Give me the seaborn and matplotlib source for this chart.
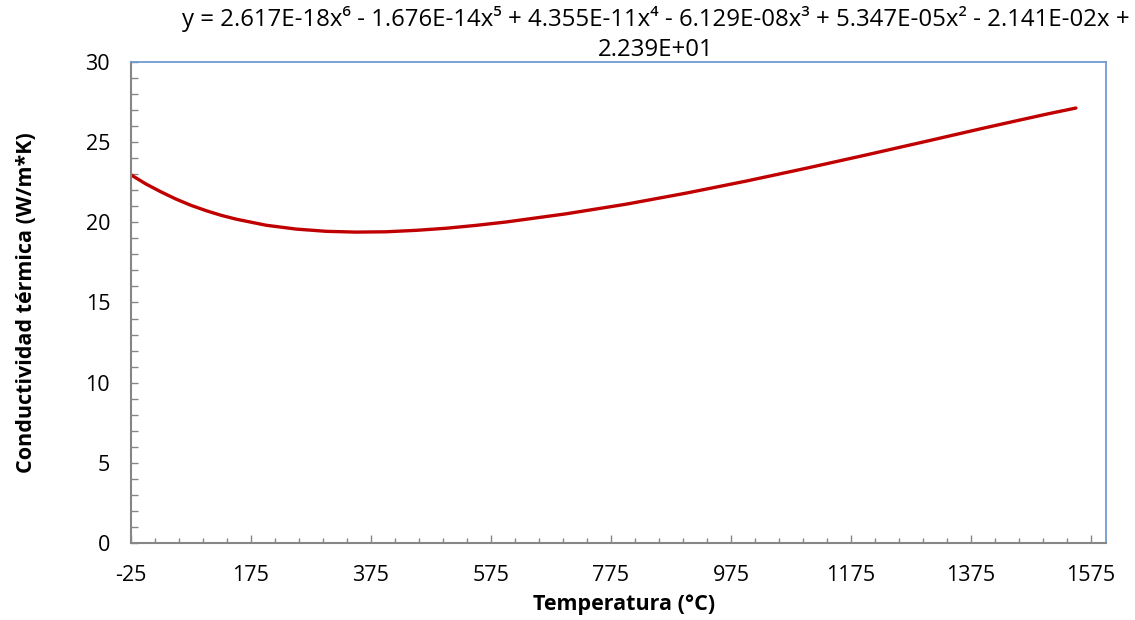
import seaborn as sns
import matplotlib.pyplot as plt
import pandas as pd
from matplotlib.ticker import MultipleLocator, FixedLocator

# valores
temperatura = [-25, 0, 25, 50, 75, 100, 125, 150, 200, 250, 300, 350, 400, 450,
               500, 550, 600, 700, 800, 900, 1000, 1100, 1200, 1300, 1400, 1500, 1550]
conductividad = [22.96, 22.39, 21.90, 21.45, 21.06, 20.73, 20.44, 20.20, 19.82,
                 19.58, 19.44, 19.39, 19.41, 19.50, 19.63, 19.81, 20.02, 20.53,
                 21.13, 21.82, 22.57, 23.37, 24.20, 25.05, 25.91, 26.74, 27.13]

titulo = ("y = 2.617E-18x\u2076 - 1.676E-14x\u2075 + 4.355E-11x\u2074 - 6.129E-08x\u00b3 "
          "+ 5.347E-05x\u00b2 - 2.141E-02x +\n2.239E+01")

df = pd.DataFrame({"Temperatura": temperatura, "Conductividad": conductividad})

sns.set_style("white")
plt.rcParams["font.family"] = ["Open Sans", "DejaVu Sans"]
plt.rcParams["axes.unicode_minus"] = False
plt.rcParams["text.color"] = "black"
plt.rcParams["axes.labelcolor"] = "black"
plt.rcParams["xtick.color"] = "black"
plt.rcParams["ytick.color"] = "black"

fig = plt.figure(figsize=(11.35, 6.2), dpi=100)
ax = fig.add_axes([0.1154, 0.1242, 0.859, 0.7758])

sns.lineplot(data=df, x="Temperatura", y="Conductividad", color="#C00000",
             linewidth=2.4, ax=ax)

ax.set_xlim(-25, 1600)
ax.set_ylim(0, 30)
ax.xaxis.set_major_locator(FixedLocator(list(range(-25, 1576, 200))))
ax.xaxis.set_minor_locator(FixedLocator(list(range(-25, 1600, 40))))
ax.yaxis.set_major_locator(MultipleLocator(5))
ax.yaxis.set_minor_locator(MultipleLocator(1))

ax.tick_params(axis="x", which="both", bottom=True, top=False)
ax.tick_params(axis="y", which="both", left=True, right=False)
ax.tick_params(axis="x", which="major", direction="in", length=6, width=1,
               color="#868686", labelcolor="black", labelsize=15.5, pad=16)
ax.tick_params(axis="x", which="minor", direction="in", length=3.5, width=1,
               color="#868686")
ax.tick_params(axis="y", which="both", direction="in", length=5, width=1,
               color="#868686", labelcolor="black", labelsize=15.5, pad=15)

for s in ["left", "bottom"]:
    ax.spines[s].set_color("#868686")
    ax.spines[s].set_linewidth(1.5)
for s in ["top", "right"]:
    ax.spines[s].set_color("#6F9BD1")
    ax.spines[s].set_linewidth(1.3)

ax.set_xlabel("Temperatura (°C)", fontsize=15.5, fontweight="bold")
ax.set_ylabel("Conductividad térmica (W/m*K)", fontsize=15.5, fontweight="bold")
ax.xaxis.set_label_coords(0.506, -0.105)
ax.yaxis.set_label_coords(-0.096, 0.5)

fig.text(0.578, 0.99, titulo, ha="center", va="top", fontsize=17.3,
         linespacing=1.3)

plt.savefig("out.png", dpi=100)
